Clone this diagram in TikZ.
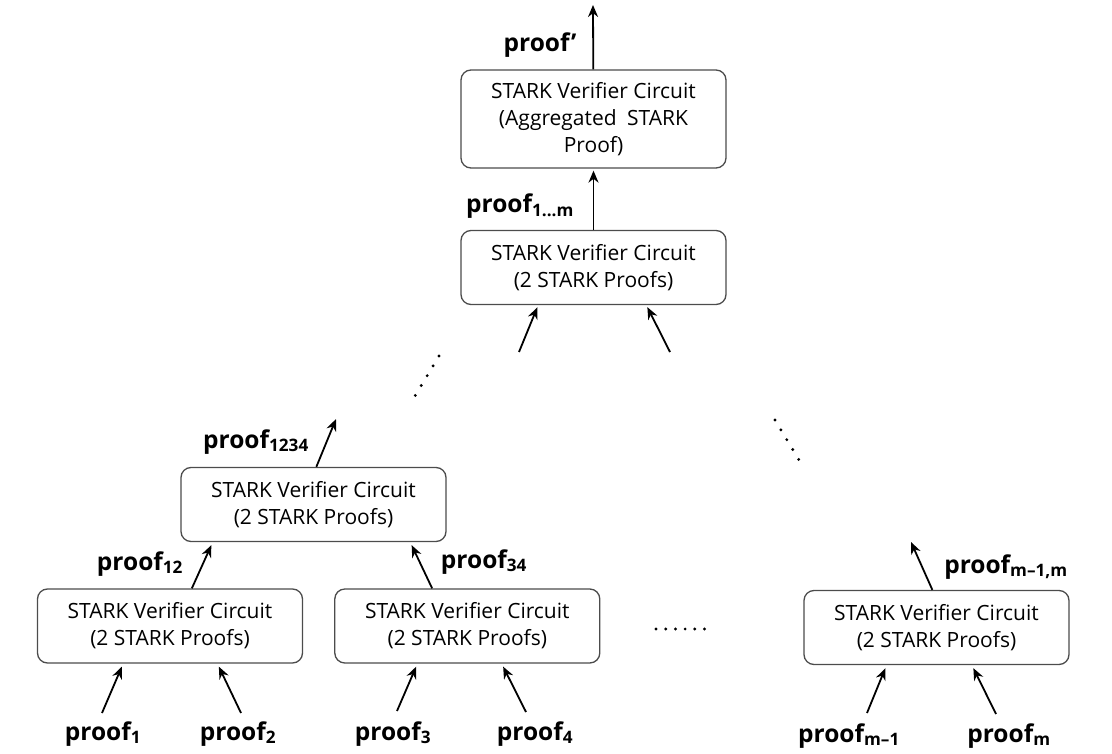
\documentclass[tikz,border=0pt]{standalone}
\usepackage{fontspec}
\setmainfont{Open Sans}
\usetikzlibrary{positioning,arrows.meta}

\newcommand{\pf}[1]{proof\textsubscript{#1}}

\begin{document}
\begin{tikzpicture}[x=1pt, y=-1pt,
    main/.style = {rectangle, rounded corners=10pt, draw=black!70, line width=1.3pt, minimum width=265pt, minimum height=74pt, align=center, font=\fontsize{21}{27}\selectfont},
    lbl/.style = {anchor=base, inner sep=0pt, font=\bfseries\fontsize{24.5}{27}\selectfont},
    link/.style = {-{Stealth[length=12pt,width=10pt]}, line width=1.8pt},
    dotrow/.style = {line width=3.2pt, line cap=round, dash pattern=on 0pt off #1}]
    \useasboundingbox (0,0) rectangle (1112,754);

    \node[main] (v12) at (170,626) {STARK Verifier Circuit\\(2 STARK Proofs)};
    \node[main] (v34) [right=31pt of v12] {STARK Verifier Circuit\\(2 STARK Proofs)};
    \node[main] (vm) at (936.5,627.5) {STARK Verifier Circuit\\(2 STARK Proofs)};
    \node[main] (v1234) at (313.5,504.5) {STARK Verifier Circuit\\(2 STARK Proofs)};
    \node[main] (root) at (593.5,267.5) {STARK Verifier Circuit\\(2 STARK Proofs)};
    \node[main, minimum height=98pt] (agg) at (593.5,119) {STARK Verifier Circuit\\(Aggregated\enspace STARK\\Proof)};

    % inputs
    \coordinate (p1) at (102,713);
    \coordinate (p2) at (241,713);
    \coordinate (p3) at (397,711);
    \coordinate (p4) at (526,712);
    \coordinate (pm1) at (867,713);
    \coordinate (pm) at (996,714);
    \draw[link] (p1) -- ([xshift=85pt,yshift=-3pt]v12.south west);
    \draw[link] (p2) -- ([xshift=182pt,yshift=-3pt]v12.south west);
    \draw[link] (p3) -- ([xshift=82pt,yshift=-3pt]v34.south west);
    \draw[link] (p4) -- ([xshift=169pt,yshift=-3pt]v34.south west);
    \draw[link] (pm1) -- ([xshift=82pt,yshift=-3pt]vm.south west);
    \draw[link] (pm) -- ([xshift=170pt,yshift=-3pt]vm.south west);
    \node[lbl] (l1) at (103,740) {\pf{1}};
    \node[lbl] (l2) at (238,740) {\pf{2}};
    \node[lbl] (l3) at (393,740) {\pf{3}};
    \node[lbl] (l4) at (535,740) {\pf{4}};
    \node[lbl] (lm1) at (849,742) {\pf{m--1}};
    \node[lbl] (lm) at (1009,742) {\pf{m}};

    % pairs
    \draw[link] ([xshift=155pt]v12.north west) -- ([xshift=31pt,yshift=-3pt]v1234.south west);
    \draw[link] ([xshift=98pt]v34.north west) -- ([xshift=-35pt,yshift=-3pt]v1234.south east);
    \node[lbl] (l12) at (140,570) {\pf{12}};
    \node[lbl] (l34) at (484,568) {\pf{34}};

    \coordinate (up1234) at (336,419);
    \draw[link] ([xshift=136pt]v1234.north west) -- (up1234);
    \node[lbl] (l1234) at (256,448) {\pf{1234}};

    \coordinate (upm) at (911,542);
    \draw[link] ([xshift=129pt]vm.north west) -- (upm);
    \node[lbl] (lmm) at (1006,573) {\pf{m--1,m}};

    % top of the tree
    \coordinate (r1) at (519,352);
    \coordinate (r2) at (670,352);
    \draw[link] (r1) -- ([xshift=77pt,yshift=-2pt]root.south west);
    \draw[link] (r2) -- ([xshift=187pt,yshift=-2pt]root.south west);
    \draw[link] (root) -- ([yshift=-2pt]agg.south);
    \node[lbl] (l1m) at (520,213) {\pf{1...m}};

    \coordinate (out) at (593,5);
    \draw[link] (agg) -- (out);
    \node[lbl] (lout) at (540,52) {proof'};

    % dots
    \coordinate (dl1) at (439,356);
    \coordinate (dl2) at (415,396);
    \coordinate (dr1) at (775,420);
    \coordinate (dr2) at (799,460);
    \coordinate (dh1) at (656,629);
    \coordinate (dh2) at (705,629);
    \draw[dotrow=11.5pt] (dl1) -- (dl2);
    \draw[dotrow=11.5pt] (dr1) -- (dr2);
    \draw[dotrow=9.7pt] (dh1) -- (dh2);
\end{tikzpicture}
\end{document}
